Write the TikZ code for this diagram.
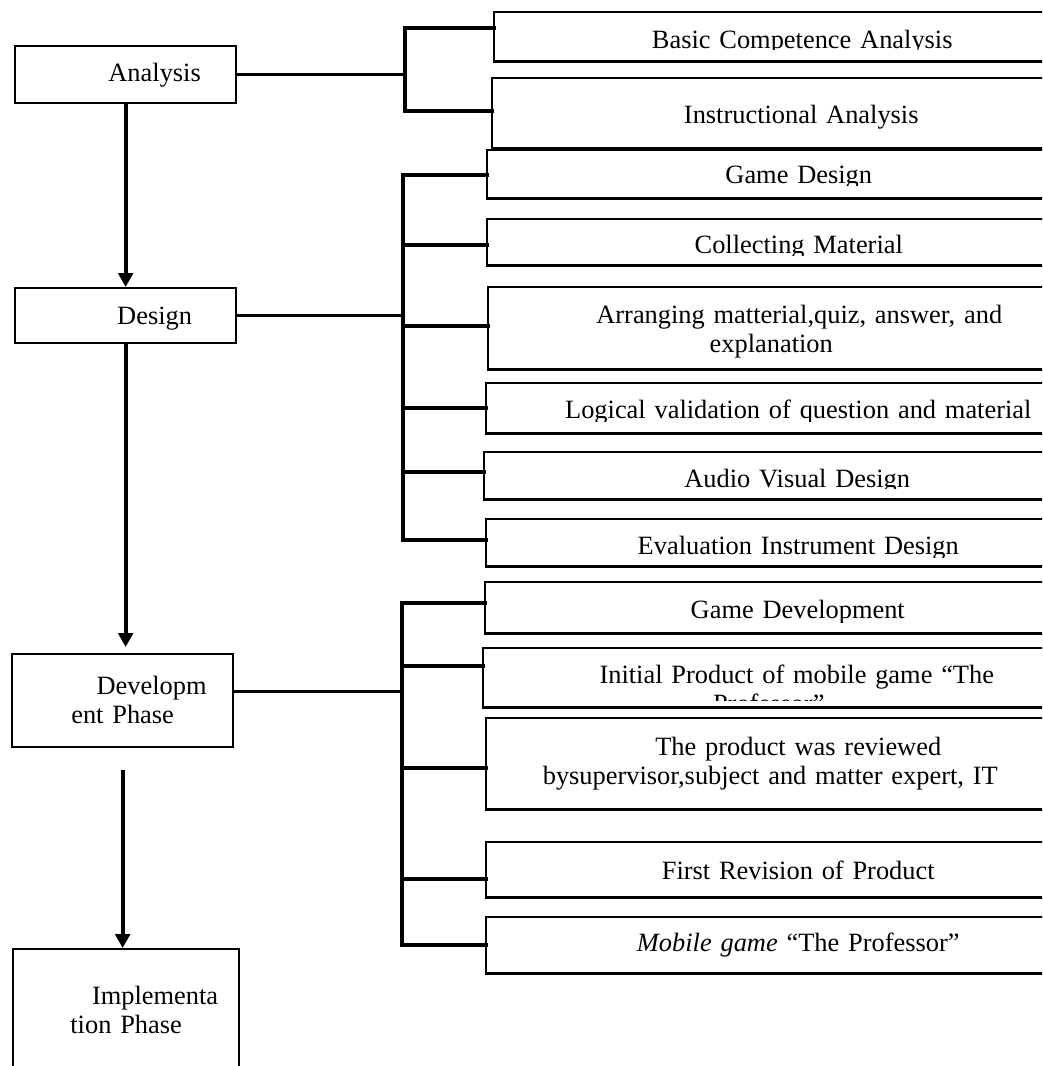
\documentclass[tikz,border=0pt]{standalone}
\usepackage{fontspec}
\setmainfont{Liberation Serif}
\usetikzlibrary{arrows.meta, positioning}
\setlength{\parindent}{0pt}

\begin{document}
\begin{tikzpicture}[x=0.75pt, y=-0.75pt,
    item/.style={anchor=north west, inner sep=0pt, align=center,
        font=\fontsize{19.8pt}{21.75pt}\selectfont, text height=26.25pt},
    box/.style={item, draw, line width=1.7pt},
    frame/.style={line width=1.7pt},
    link/.style={line width=2.4pt, line join=miter, line cap=rect},
    flow/.style={-{Triangle[length=10.5pt, width=11pt]}, line width=3pt}]
    \useasboundingbox (0,0) rectangle (1042,1066);
    \clip (0,0) rectangle (1042,1066);
    \fill[white] (0,0) rectangle (1042,1066);

    % phases
    \node[box, text width=165.75pt, text depth=16.5pt] (analysis) at (14,45) {\hspace*{43.5pt}Analysis};
    \node[box, text width=165.75pt, text height=27pt, text depth=14.25pt] (design) at (14,287) {\hspace*{43.5pt}Design};
    \node[box, text width=165.75pt, text height=30pt, text depth=39.75pt] (develop) at (11,653) {\hspace*{43.5pt}Developm\\ent Phase};
    \node[box, text width=169.5pt, text height=41.25pt, text depth=65.25pt] (implement) at (12,948) {\hspace*{43.5pt}Implementa\\tion Phase};

    \draw[flow] (analysis) -- (design);
    \draw[flow, shorten >=4.5pt] (design) -- (design |- develop.north);
    \draw[flow] ([yshift=-16.5pt]develop.south) -- (develop.south |- implement.north);

    % steps, text cut at the inner margin
    \begin{scope}
        \clip (494,12) rectangle (1042,50) (492,78) rectangle (1042,140)
            (487,150) rectangle (1042,186) (487,219) rectangle (1042,255)
            (488,287) rectangle (1042,362) (486,383) rectangle (1042,421)
            (484,452) rectangle (1042,488) (486,519) rectangle (1042,557)
            (485,582) rectangle (1042,622) (483,648) rectangle (1042,700)
            (486,718) rectangle (1042,803) (486,842) rectangle (1042,889)
            (486,917) rectangle (1042,963);
        \node[item, text width=420pt, text height=27pt, text depth=9.75pt] (bca) at (494,12) {\hspace*{42pt}Basic Competence Analysis};
        \node[item, text width=421.5pt, text height=33.75pt, text depth=18.75pt] (ia) at (492,78) {\hspace*{42pt}Instructional Analysis};
        \node[item, text width=425.25pt, text height=24.75pt, text depth=11.25pt] (gd) at (487,150) {\hspace*{42pt}Game Design};
        \node[item, text width=425.25pt, text height=25.5pt, text depth=9pt] (cm) at (487,219) {\hspace*{42pt}Collecting Material};
        \node[item, text width=424.5pt, text height=27pt, text depth=34.5pt] (am) at (488,287) {\hspace*{42pt}Arranging matterial,quiz, answer, and\\explanation};
        \node[item, text width=426pt, text depth=11.25pt] (lv) at (486,383) {\hspace*{42pt}Logical validation of question and material};
        \node[item, text width=427.5pt, text depth=9pt] (avd) at (484,452) {\hspace*{42pt}Audio Visual Design};
        \node[item, text width=426pt, text depth=9pt] (eid) at (486,519) {\hspace*{42pt}Evaluation Instrument Design};
        \node[item, text width=426.75pt, text height=27pt, text depth=11.25pt] (gdev) at (485,582) {\hspace*{42pt}Game Development};
        \node[item, text width=428.25pt, text depth=18pt] (ip) at (483,648) {\hspace*{42pt}Initial Product of mobile game “The\\Professor”};
        \node[item, text width=426pt, text height=27.75pt, text depth=40.5pt] (rev) at (486,718) {\hspace*{42pt}The product was reviewed\\bysupervisor,subject and matter expert, IT};
        \node[item, text width=426pt, text height=27.75pt, text depth=13.5pt] (fr) at (486,842) {\hspace*{42pt}First Revision of Product};
        \node[item, text width=426pt, text height=25.5pt, text depth=16.5pt] (mg) at (486,917) {\hspace*{42pt}\textit{Mobile game} “The Professor”};
    \end{scope}
    \foreach \n in {bca, ia, gd, cm, am, lv, avd, eid, gdev, ip, rev, fr, mg}
        \draw[frame] (\n.north west) rectangle (\n.south east);

    % brackets
    \coordinate (abr1) at (405,28);
    \coordinate (abr2) at (405,111);
    \draw[link] (analysis) -- (analysis -| abr1);
    \draw[link] (abr1 -| bca.west) -- (abr1) -- (abr2) -- (abr2 -| ia.west);

    \coordinate (dbr1) at (403,175);
    \coordinate (dbr2) at (403,245);
    \coordinate (dbr3) at (403,326);
    \coordinate (dbr4) at (403,408);
    \coordinate (dbr5) at (403,472);
    \coordinate (dbr6) at (403,540);
    \draw[link] (design) -- (design -| dbr1);
    \draw[link] (dbr1 -| gd.west) -- (dbr1) -- (dbr6) -- (dbr6 -| eid.west);
    \draw[link] (dbr2) -- (dbr2 -| cm.west);
    \draw[link] (dbr3) -- (dbr3 -| am.west);
    \draw[link] (dbr4) -- (dbr4 -| lv.west);
    \draw[link] (dbr5) -- (dbr5 -| avd.west);

    \coordinate (vbr1) at (402,603);
    \coordinate (vbr2) at (402,666);
    \coordinate (vbr3) at (402,768);
    \coordinate (vbr4) at (402,879);
    \coordinate (vbr5) at (402,945);
    \draw[link] ([yshift=7pt]develop.east) -- ([yshift=7pt]develop.east -| vbr1);
    \draw[link] (vbr1 -| gdev.west) -- (vbr1) -- (vbr5) -- (vbr5 -| mg.west);
    \draw[link] (vbr2) -- (vbr2 -| ip.west);
    \draw[link] (vbr3) -- (vbr3 -| rev.west);
    \draw[link] (vbr4) -- (vbr4 -| fr.west);
\end{tikzpicture}
\end{document}
